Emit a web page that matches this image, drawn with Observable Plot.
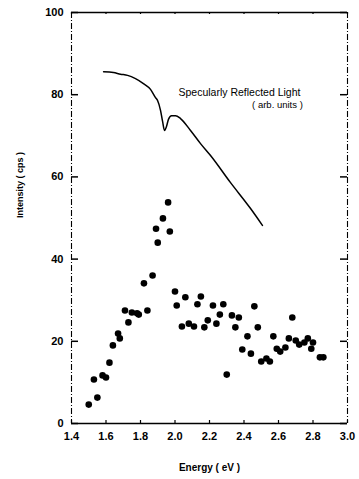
<!DOCTYPE html>
<html>
<head>
<meta charset="utf-8">
<script src="https://cdn.jsdelivr.net/npm/d3@7"></script>
<script src="https://cdn.jsdelivr.net/npm/@observablehq/plot@0.6"></script>
<style>
  html, body { margin: 0; padding: 0; background: #fff; }
  #chart svg { display: block; }
</style>
</head>
<body>
<div id="chart"></div>
<script>
// Measured photon emission intensity (counts per second) versus energy
const pointEnergy = [
  1.50, 1.53, 1.55, 1.58, 1.60, 1.62, 1.64, 1.67, 1.68, 1.71,
  1.73, 1.75, 1.78, 1.79, 1.82, 1.84, 1.87, 1.89, 1.90, 1.93,
  1.96, 1.97, 2.00, 2.01, 2.04, 2.06, 2.08, 2.11, 2.13, 2.15,
  2.17, 2.19, 2.22, 2.24, 2.26, 2.28, 2.30, 2.33, 2.35, 2.37,
  2.39, 2.42, 2.44, 2.46, 2.48, 2.50, 2.53, 2.55, 2.57, 2.59,
  2.61, 2.64, 2.66, 2.68, 2.70, 2.72, 2.75, 2.77, 2.79, 2.80,
  2.84, 2.86
];
const pointIntensity = [
  4.6, 10.7, 6.3, 11.7, 11.2, 14.8, 19.0, 21.9, 20.7, 27.5,
  24.6, 27.0, 26.8, 26.5, 34.1, 27.5, 36.0, 47.4, 44.0, 49.9,
  53.8, 46.7, 32.1, 28.7, 23.6, 30.7, 24.3, 23.6, 29.0, 30.9,
  23.4, 25.1, 28.7, 24.3, 26.5, 29.0, 11.9, 26.3, 23.4, 25.8,
  18.0, 21.2, 17.0, 28.5, 23.4, 15.1, 15.8, 15.1, 21.2, 18.2,
  17.5, 18.5, 20.7, 25.8, 20.2, 19.2, 19.7, 20.7, 18.2, 19.7,
  16.1, 16.1
];

// Specularly reflected light (arbitrary units), traced on the same axes
const curveEnergy = [
  1.586, 1.643, 1.684, 1.725, 1.771, 1.817, 1.858, 1.887, 1.899, 1.916,
  1.928, 1.939, 1.951, 1.962, 1.980, 2.003, 2.032, 2.090, 2.148, 2.206,
  2.322, 2.438, 2.507
];
const curveIntensity = [
  85.6, 85.4, 85.0, 84.7, 83.9, 82.7, 81.3, 79.3, 78.6, 76.2,
  73.5, 71.3, 72.3, 74.0, 74.9, 74.9, 74.2, 71.3, 68.1, 65.2,
  58.6, 52.3, 48.2
];

const xTicks = [1.4, 1.6, 1.8, 2.0, 2.2, 2.4, 2.6, 2.8, 3.0];
const xTickLabels = ["1.4", "1.6", "1.8", "2.0", "2.2", "2.4", "2.6", "2.8", "3.0"];
const yTicks = [0, 20, 40, 60, 80, 100];
const yTickLabels = ["0", "20", "40", "60", "80", "100"];

const curveLabel = "Specularly Reflected Light";
const curveUnits = "( arb. units )";
const xTitle = "Energy ( eV )";
const yTitle = "Intensity ( cps )";

const points = pointEnergy.map((e, i) => ({energy: e, intensity: pointIntensity[i]}));
const curve = curveEnergy.map((e, i) => ({energy: e, intensity: curveIntensity[i]}));

const xMin = xTicks[0], xMax = xTicks[xTicks.length - 1];
const yMin = yTicks[0], yMax = yTicks[yTicks.length - 1];
const xLabelOf = d => xTickLabels[xTicks.indexOf(d)];
const yLabelOf = d => yTickLabels[yTicks.indexOf(d)];

// chart geometry
const W = 359, H = 479;
const M = {left: 71, right: 12, top: 12, bottom: 56};
const frameW = W - M.left - M.right;
const frameH = H - M.top - M.bottom;

const chart = Plot.plot({
  width: W,
  height: H,
  marginLeft: M.left,
  marginRight: M.right,
  marginTop: M.top,
  marginBottom: M.bottom,
  style: {fontFamily: "'Liberation Sans', Arial, sans-serif", color: "#000", background: "#fff"},
  x: {domain: [xMin, xMax]},
  y: {domain: [yMin, yMax]},
  marks: [
    // frame: solid top and bottom, broken left and right sides
    Plot.ruleY([yMin, yMax], {stroke: "#000", strokeWidth: 1.3}),
    Plot.ruleX([xMin, xMax], {stroke: "#000", strokeWidth: 1.1, strokeDasharray: "6,2,1,2"}),

    // inward tick marks on all four sides
    Plot.tickY(yTicks, {y: d => d, insetRight: frameW - 7, stroke: "#000", strokeWidth: 1.5}),
    Plot.tickY(yTicks, {y: d => d, insetLeft: frameW - 7, stroke: "#000", strokeWidth: 1.5}),
    Plot.tickX(xTicks, {x: d => d, insetTop: frameH - 3, stroke: "#000", strokeWidth: 1.2}),
    Plot.tickX(xTicks, {x: d => d, insetBottom: frameH - 2, stroke: "#000", strokeWidth: 1.2}),

    // tick labels
    Plot.axisY(yTicks, {
      anchor: "left", tickSize: 0, tickPadding: 8, tickFormat: yLabelOf,
      fontSize: 11, fontWeight: "bold", label: null
    }),
    Plot.axisX(xTicks, {
      anchor: "bottom", tickSize: 0, tickPadding: 9, tickFormat: xLabelOf,
      fontSize: 11, fontWeight: "bold", label: null
    }),

    // axis titles
    Plot.text([xTitle], {
      frameAnchor: "bottom", dy: 44, text: d => d, lineAnchor: "middle",
      fontSize: 10, fontWeight: "bold", fill: "#000"
    }),
    Plot.text([yTitle], {
      frameAnchor: "left", dx: -51, rotate: -90, text: d => d, lineAnchor: "middle",
      fontSize: 9, fontWeight: "bold", fill: "#000"
    }),

    // reflected-light curve and its caption
    Plot.line(curve, {x: "energy", y: "intensity", stroke: "#000", strokeWidth: 1.5, curve: "monotone-x"}),
    Plot.text([curveLabel], {x: 2.02, y: 80.5, text: d => d, textAnchor: "start", fontSize: 10.5, fill: "#000"}),
    Plot.text([curveUnits], {x: 2.594, y: 77.6, text: d => d, textAnchor: "middle", fontSize: 9.5, fill: "#000"}),

    // emission intensity points
    Plot.dot(points, {x: "energy", y: "intensity", r: 3.3, fill: "#000", stroke: "none"})
  ]
});

document.getElementById("chart").appendChild(chart);
</script>
</body>
</html>
